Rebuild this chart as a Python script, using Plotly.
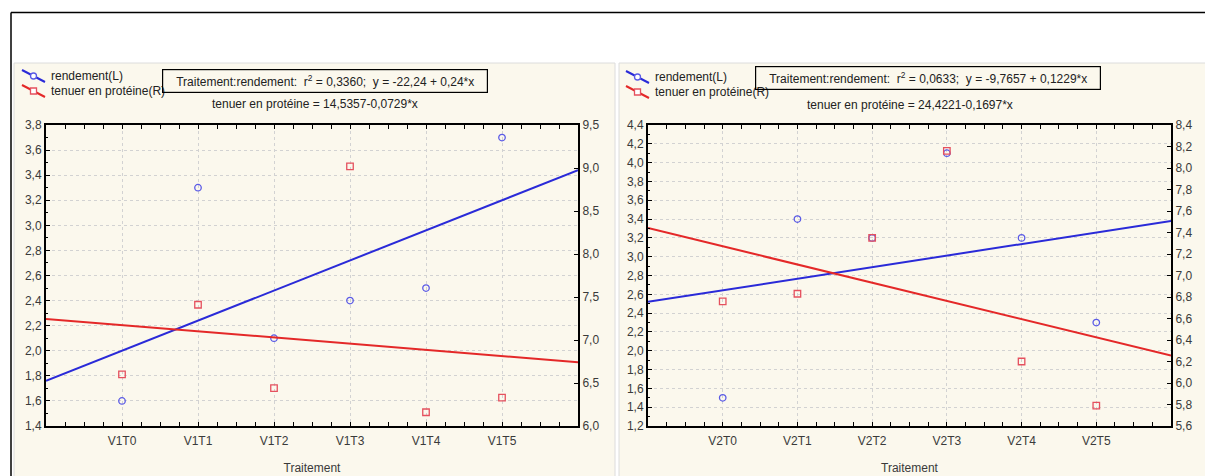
import numpy as np
import plotly.graph_objects as go

# ---------------- data ----------------
categories_v1 = ["V1T0", "V1T1", "V1T2", "V1T3", "V1T4", "V1T5"]
rendement_v1 = [1.6, 3.3, 2.1, 2.4, 2.5, 3.7]
proteine_v1 = [6.60, 7.41, 6.44, 9.02, 6.16, 6.33]

categories_v2 = ["V2T0", "V2T1", "V2T2", "V2T3", "V2T4", "V2T5"]
rendement_v2 = [1.5, 3.4, 3.2, 4.1, 3.2, 2.3]
proteine_v2 = [6.76, 6.83, 7.35, 8.16, 6.20, 5.79]

PADS = "\u00a0\u00a0\u00a0"
eq_rend_v1 = "Traitement:rendement:\u00a0\u00a0r<sup>2</sup> = 0,3360;\u00a0\u00a0y = -22,24 + 0,24*x"
eq_prot_v1 = "tenuer en protéine = 14,5357-0,0729*x"
eq_rend_v2 = "Traitement:rendement:\u00a0\u00a0r<sup>2</sup> = 0,0633;\u00a0\u00a0y = -9,7657 + 0,1229*x"
eq_prot_v2 = "tenuer en protéine = 24,4221-0,1697*x"

legend_labels = ["rendement(L)", "tenuer en protéine(R)"]
x_title = "Traitement"

# ---------------- style ----------------
OFF = 8  # page body margin
VW, VH = 1213, 476
W, H = VW - OFF, VH - OFF
FONT = "Arial, 'Liberation Sans', sans-serif"
FS = 12
BLUE_M = "#5a5ae6"
RED_M = "#e5505e"
BLUE_L = "#2a2ad8"
RED_L = "#e42828"
CREAM = "#fbf8ed"
TXT = "#3a3a3a"


def px(x):
    return (x - OFF) / W


def py(y):
    return 1 - (y - OFF) / H


fig = go.Figure()


def add_panel(cats, rend, prot, xa, ya, ya2):
    idx = np.arange(len(cats))
    xr = np.array([-1, len(cats)])
    cr = np.polyfit(idx, rend, 1)
    cp = np.polyfit(idx, prot, 1)
    fig.add_trace(go.Scatter(x=xr, y=np.polyval(cr, xr), mode="lines",
                             line=dict(color=BLUE_L, width=2), xaxis=xa, yaxis=ya,
                             showlegend=False, hoverinfo="skip"))
    fig.add_trace(go.Scatter(x=idx, y=rend, mode="markers",
                             marker=dict(symbol="circle-open", size=6.5, color=BLUE_M,
                                         line=dict(width=1.3)),
                             xaxis=xa, yaxis=ya, showlegend=False))
    fig.add_trace(go.Scatter(x=xr, y=np.polyval(cp, xr), mode="lines",
                             line=dict(color=RED_L, width=2), xaxis=xa, yaxis=ya2,
                             showlegend=False, hoverinfo="skip"))
    fig.add_trace(go.Scatter(x=idx, y=prot, mode="markers",
                             marker=dict(symbol="square-open", size=6.5, color=RED_M,
                                         line=dict(width=1.3)),
                             xaxis=xa, yaxis=ya2, showlegend=False))


add_panel(categories_v1, rendement_v1, proteine_v1, "x", "y", "y2")
add_panel(categories_v2, rendement_v2, proteine_v2, "x2", "y3", "y4")

ydom = [py(426), py(125)]

common_x = dict(
    range=[-1, 6], tickmode="array", showline=True, linecolor="black", linewidth=2,
    mirror="allticks", ticks="inside", ticklen=4, tickcolor="black",
    showgrid=True, gridcolor="#d2d2d2", griddash="dot", gridwidth=1,
    zeroline=False, automargin=False, ticklabelstandoff=3,
    tickfont=dict(family=FONT, size=FS, color=TXT),
    minor=dict(tickmode="linear", tick0=0, dtick=0.25, ticks="inside", ticklen=3,
               tickcolor="black", showgrid=False),
    title=dict(text=x_title, font=dict(family=FONT, size=FS, color=TXT), standoff=16),
)


def yleft(rng, dt, anchor):
    return dict(range=rng, dtick=dt, tick0=rng[0], domain=ydom, anchor=anchor,
                showline=True, linecolor="black", linewidth=2, ticks="inside",
                ticklen=4, tickcolor="black", tickformat=".1f", showgrid=True,
                gridcolor="#d2d2d2", griddash="dot", zeroline=False, automargin=False,
                tickfont=dict(family=FONT, size=FS, color=TXT),
                minor=dict(dtick=dt / 2, tick0=rng[0], ticks="inside", ticklen=2,
                           tickcolor="black", showgrid=False))


def yright(rng, dt, anchor, over):
    return dict(range=rng, dtick=dt, tick0=rng[0], anchor=anchor, overlaying=over,
                side="right", showline=True, linecolor="black", linewidth=2,
                ticks="inside", ticklen=4, tickcolor="black", tickformat=".1f",
                showgrid=False, zeroline=False, automargin=False,
                tickfont=dict(family=FONT, size=FS, color=TXT))


fig.update_layout(
    width=W, height=H, margin=dict(l=0, r=0, t=0, b=0, pad=0, autoexpand=False),
    paper_bgcolor="white", plot_bgcolor="white", separators=", ",
    showlegend=False,
    xaxis=dict(common_x, domain=[px(46), px(578)], anchor="y",
               tickvals=list(range(len(categories_v1))), ticktext=categories_v1),
    xaxis2=dict(common_x, domain=[px(648), px(1171)], anchor="y3",
                tickvals=list(range(len(categories_v2))), ticktext=categories_v2),
    yaxis=yleft([1.4, 3.8], 0.2, "x"),
    yaxis2=yright([6.0, 9.5], 0.5, "x", "y"),
    yaxis3=yleft([1.2, 4.4], 0.2, "x2"),
    yaxis4=yright([5.6, 8.4], 0.2, "x2", "y3"),
)

shapes = []
# outer frame lines
shapes.append(dict(type="line", xref="paper", yref="paper", x0=px(11), x1=1.01, y0=py(12.5), y1=py(12.5),
                   line=dict(color="black", width=1.5)))
shapes.append(dict(type="line", xref="paper", yref="paper", x0=px(11), x1=px(11), y0=py(12.5), y1=-0.02,
                   line=dict(color="black", width=1.5)))
# cream panels
for x0, x1 in [(14, 615), (619, 1206)]:
    shapes.append(dict(type="rect", xref="paper", yref="paper", x0=px(x0), x1=px(x1),
                       y0=-0.03, y1=py(63), fillcolor=CREAM, line=dict(color="#dcdcdc", width=1),
                       layer="below"))

annotations = []


def legend_block(xs, ys):
    for i, (col, sym) in enumerate([(BLUE_L, "circle"), (RED_L, "rect")]):
        yc = ys[i]
        shapes.append(dict(type="line", xref="paper", yref="paper",
                           x0=px(xs), y0=py(yc - 6), x1=px(xs + 23), y1=py(yc + 6),
                           line=dict(color=col, width=2)))
        cx, cy = xs + 11.5, yc
        mcol = BLUE_M if i == 0 else RED_M
        shapes.append(dict(type=sym, xref="paper", yref="paper",
                           x0=px(cx - 3), x1=px(cx + 3), y0=py(cy + 3), y1=py(cy - 3),
                           line=dict(color=mcol, width=1.3), fillcolor="white"))
        annotations.append(dict(xref="paper", yref="paper", x=px(xs + 27), y=py(yc),
                                xanchor="left", yanchor="middle", showarrow=False,
                                text=legend_labels[i],
                                font=dict(family=FONT, size=FS, color="#222")))


legend_block(22, [76, 91])
legend_block(626, [77, 92])

for cx, cy, txt in [(325, 81, eq_rend_v1), (928, 78, eq_rend_v2)]:
    annotations.append(dict(xref="paper", yref="paper", x=px(cx), y=py(cy),
                            xanchor="center", yanchor="middle", showarrow=False,
                            text=PADS + txt + PADS,
                            font=dict(family=FONT, size=FS, color="#222"),
                            bordercolor="black", borderwidth=1.2, borderpad=3,
                            bgcolor="rgba(0,0,0,0)"))
for cx, cy, txt in [(315, 104, eq_prot_v1), (910, 105, eq_prot_v2)]:
    annotations.append(dict(xref="paper", yref="paper", x=px(cx), y=py(cy),
                            xanchor="center", yanchor="middle", showarrow=False, text=txt,
                            font=dict(family=FONT, size=FS, color="#222")))

fig.update_layout(shapes=shapes, annotations=annotations)
fig.write_html("out.html")
